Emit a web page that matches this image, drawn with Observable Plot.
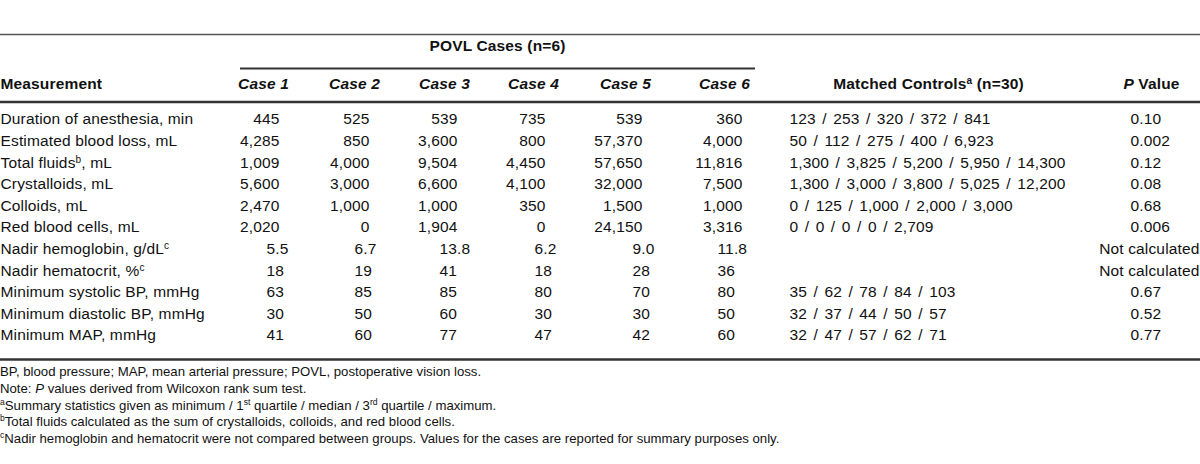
<!DOCTYPE html>
<html>
<head>
<meta charset="utf-8">
<script src="https://cdn.jsdelivr.net/npm/d3@7"></script>
<script src="https://cdn.jsdelivr.net/npm/@observablehq/plot@0.6"></script>
<style>
  html, body { margin: 0; padding: 0; background: #fff; }
  #wrap { width: 1200px; }
  #notes { font-family: "Liberation Sans", Arial, sans-serif; font-size: 13.2px; line-height: 16.8px; color: #111; }
  #notes sup { font-size: 65%; line-height: 0; vertical-align: 0.6em; }
</style>
</head>
<body>
<div id="wrap"></div>
<script>
// ---------- DATA ----------
const measurements = [
  "Duration of anesthesia, min",
  "Estimated blood loss, mL",
  "Total fluids^b, mL",
  "Crystalloids, mL",
  "Colloids, mL",
  "Red blood cells, mL",
  "Nadir hemoglobin, g/dL^c",
  "Nadir hematocrit, %^c",
  "Minimum systolic BP, mmHg",
  "Minimum diastolic BP, mmHg",
  "Minimum MAP, mmHg"
];
const caseNames = ["Case 1", "Case 2", "Case 3", "Case 4", "Case 5", "Case 6"];
const case1 = [445, 4285, 1009, 5600, 2470, 2020, 5.5, 18, 63, 30, 41];
const case2 = [525, 850, 4000, 3000, 1000, 0, 6.7, 19, 85, 50, 60];
const case3 = [539, 3600, 9504, 6600, 1000, 1904, 13.8, 41, 85, 60, 77];
const case4 = [735, 800, 4450, 4100, 350, 0, 6.2, 18, 80, 30, 47];
const case5 = [539, 57370, 57650, 32000, 1500, 24150, 9.0, 28, 70, 30, 42];
const case6 = [360, 4000, 11816, 7500, 1000, 3316, 11.8, 36, 80, 50, 60];
const controlsMin    = [123, 50, 1300, 1300, 0, 0, null, null, 35, 32, 32];
const controlsQ1     = [253, 112, 3825, 3000, 125, 0, null, null, 62, 37, 47];
const controlsMedian = [320, 275, 5200, 3800, 1000, 0, null, null, 78, 44, 57];
const controlsQ3     = [372, 400, 5950, 5025, 2000, 0, null, null, 84, 50, 62];
const controlsMax    = [841, 6923, 14300, 12200, 3000, 2709, null, null, 103, 57, 71];
const pValues = ["0.10", "0.002", "0.12", "0.08", "0.68", "0.006", "Not calculated", "Not calculated", "0.67", "0.52", "0.77"];
const headerGroup = "POVL Cases (n=6)";
const headerMeasurement = "Measurement";
const headerControls = "Matched Controls^a (n=30)";
const headerP = "*P* Value";
const footnotes = [
  "BP, blood pressure; MAP, mean arterial pressure; POVL, postoperative vision loss.",
  "Note: <i>P</i> values derived from Wilcoxon rank sum test.",
  "<sup>a</sup>Summary statistics given as minimum / 1<sup>st</sup> quartile / median / 3<sup>rd</sup> quartile / maximum.",
  "<sup>b</sup>Total fluids calculated as the sum of crystalloids, colloids, and red blood cells.",
  "<sup>c</sup>Nadir hemoglobin and hematocrit were not compared between groups. Values for the cases are reported for summary purposes only."
];

// ---------- LAYOUT ----------
const W = 1200, H = 364;
const L = {
  rowTop: 119, rowStep: 21.6,
  topRule: 34, groupText: 46, groupRule: 68, headText: 84, headRule: 101.5, bottomRule: 359,
  groupRuleX: [240, 755],
  caseHead: [263, 354, 444, 533, 625, 724],
  caseRight: [279, 369, 457, 545, 642, 742],
  caseLeft: [266, 354, 439, 534, 632, 717],
  groupCenter: 497, controlsHead: 928, controlsX: 789, pHead: 1151, pX: 1130, pRight: 1199
};
const rowY = i => L.rowTop + i * L.rowStep;
const cases = [case1, case2, case3, case4, case5, case6];
const fmtInt = d3.format(",");
const fmtDec = d3.format(".1f");

// ---------- CELLS ----------
const startCells = [], endCells = [], controlCells = [];
const headBold = [], headItalic = [];
measurements.forEach((m, i) => startCells.push({x: 0, y: rowY(i), text: m}));
cases.forEach((vals, c) => {
  vals.forEach((v, i) => {
    if (i < 6) endCells.push({x: L.caseRight[c], y: rowY(i), text: fmtInt(v)});
    else startCells.push({x: L.caseLeft[c], y: rowY(i), text: i === 6 ? fmtDec(v) : fmtInt(v)});
  });
  headItalic.push({x: L.caseHead[c], y: L.headText, text: caseNames[c]});
});
measurements.forEach((m, i) => {
  if (controlsMin[i] != null) {
    const s = [controlsMin[i], controlsQ1[i], controlsMedian[i], controlsQ3[i], controlsMax[i]].map(fmtInt).join(" / ");
    controlCells.push({x: L.controlsX, y: rowY(i), text: s});
  }
  if (pValues[i] === "Not calculated") endCells.push({x: L.pRight, y: rowY(i), text: pValues[i]});
  else startCells.push({x: L.pX, y: rowY(i), text: pValues[i]});
});
headBold.push({x: L.groupCenter, y: L.groupText, text: headerGroup});
headBold.push({x: L.controlsHead, y: L.headText, text: headerControls});
headBold.push({x: L.pHead, y: L.headText, text: headerP});

const rules = [
  {y: L.topRule, x1: 0, x2: W, w: 1.5, c: "#555"},
  {y: L.groupRule, x1: L.groupRuleX[0], x2: L.groupRuleX[1], w: 2, c: "#333"},
  {y: L.headRule, x1: 0, x2: W, w: 2.5, c: "#333"},
  {y: L.bottomRule, x1: 0, x2: W, w: 2.5, c: "#333"}
];

const font = {fontFamily: '"Liberation Sans", Arial, sans-serif', fontSize: 15.5, fill: "#111"};

const chart = Plot.plot({
  width: W, height: H, margin: 0,
  x: {domain: [0, W], range: [0, W], axis: null},
  y: {domain: [0, H], range: [0, H], axis: null},
  style: {letterSpacing: "0.15px", background: "#fff"},
  marks: [
    Plot.ruleY(rules, {y: "y", x1: "x1", x2: "x2", stroke: "c", strokeWidth: d => d.w}),
    Plot.text(startCells, {x: "x", y: "y", text: "text", textAnchor: "start", ...font}),
    Plot.text(endCells, {x: "x", y: "y", text: "text", textAnchor: "end", ...font}),
    Plot.text(controlCells, {x: "x", y: "y", text: "text", textAnchor: "start", ...font, ariaLabel: "controls"}),
    Plot.text(headItalic, {x: "x", y: "y", text: "text", textAnchor: "middle", ...font, fontWeight: "bold", fontStyle: "italic"}),
    Plot.text(headBold, {x: "x", y: "y", text: "text", textAnchor: "middle", ...font, fontWeight: "bold"}),
    Plot.text([{x: 0, y: L.headText, text: headerMeasurement}], {x: "x", y: "y", text: "text", textAnchor: "start", ...font, fontWeight: "bold"})
  ]
});

// wider word spacing in the matched-controls column
chart.querySelectorAll("text").forEach(t => {
  if (t.textContent.includes(" / ")) t.setAttribute("word-spacing", "2px");
});
// superscripts (^x) and italics (*x*) as tspans
chart.querySelectorAll("text").forEach(t => {
  const s = t.textContent;
  if (!/[\^*]/.test(s)) return;
  const ns = "http://www.w3.org/2000/svg";
  t.textContent = "";
  s.split(/(\^[a-z]+|\*[^*]+\*)/).forEach(p => {
    if (!p) return;
    const ts = document.createElementNS(ns, "tspan");
    if (p[0] === "^") { ts.textContent = p.slice(1); ts.setAttribute("baseline-shift", "super"); ts.setAttribute("font-size", "65%"); }
    else if (p[0] === "*") { ts.textContent = p.slice(1, -1); ts.setAttribute("font-style", "italic"); }
    else ts.textContent = p;
    t.appendChild(ts);
  });
});

const wrap = document.getElementById("wrap");
wrap.appendChild(chart);
const notes = document.createElement("div");
notes.id = "notes";
notes.innerHTML = footnotes.map(f => `<div>${f}</div>`).join("");
wrap.appendChild(notes);
</script>
</body>
</html>
